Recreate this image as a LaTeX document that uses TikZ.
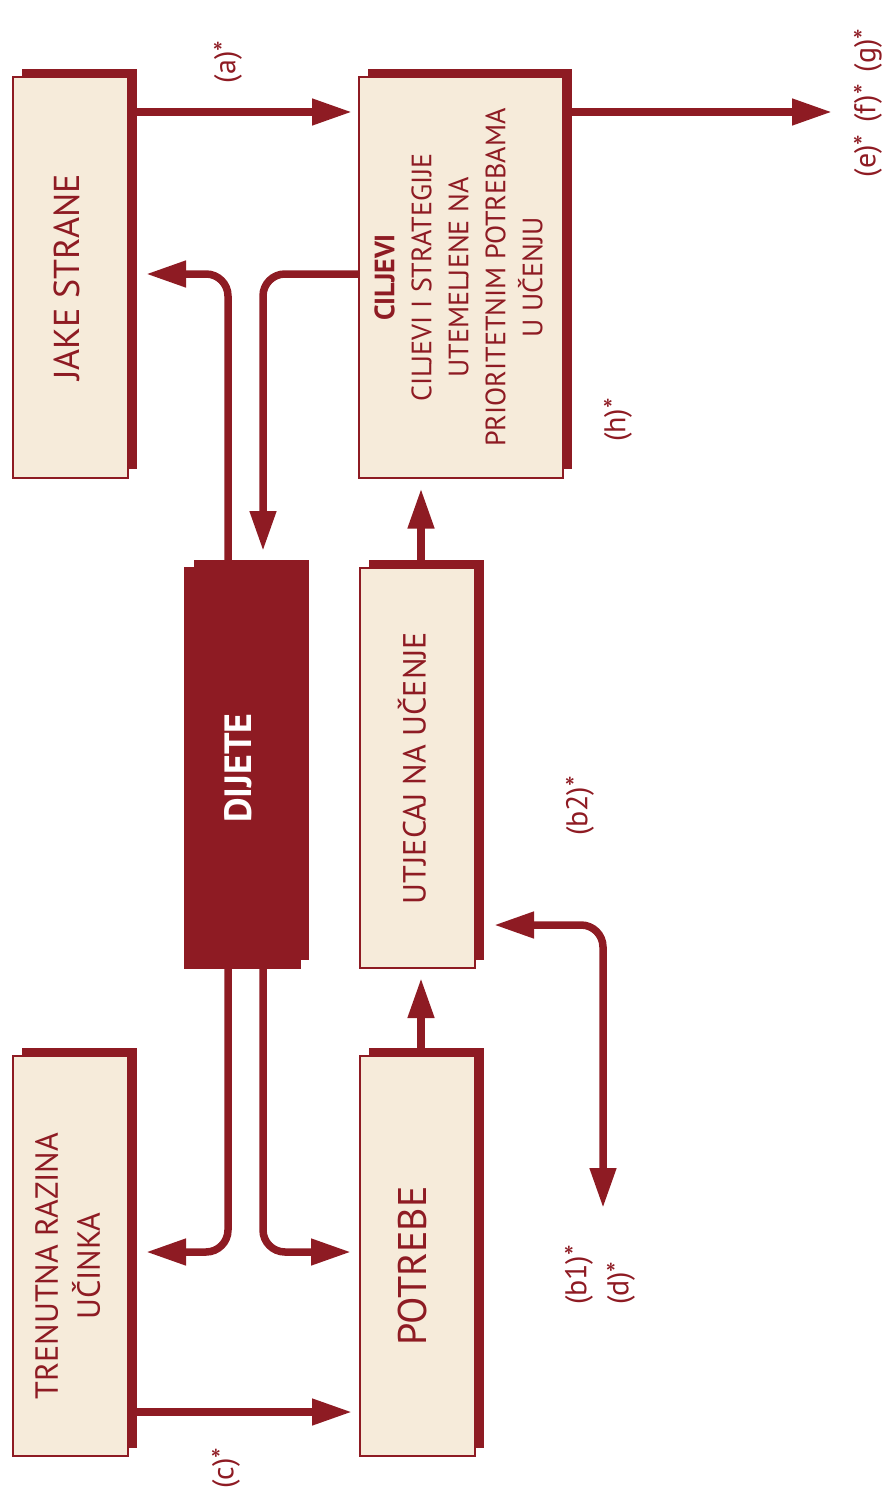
\documentclass[tikz,border=0pt]{standalone}
\usepackage{fontspec}
\setmainfont{PT Sans}
\usepackage{graphicx}
\usetikzlibrary{arrows.meta, shadows}
\definecolor{boxred}{RGB}{142,27,35}
\definecolor{boxfill}{RGB}{246,235,218}
\tikzstyle{panel}=[draw=boxred, line width=1pt, fill=boxfill, rectangle, inner sep=0pt, minimum width=57.5pt, minimum height=200pt, text=boxred, drop shadow={shadow xshift=4.25pt, shadow yshift=4.25pt, opacity=1, fill=boxred}]
\tikzstyle{arr}=[boxred, line width=3.75pt, -{Triangle[length=20pt,width=12.5pt]}]
\tikzstyle{link}=[arr, rounded corners=11pt]
\tikzstyle{tag}=[text=boxred, inner sep=0pt, font=\fontsize{15}{21}\selectfont]
\newcommand{\up}[2][0pt]{\rotatebox{90}{\begin{tabular}{@{}c@{\hspace{#1}}}#2\end{tabular}}}

\begin{document}
\begin{tikzpicture}[x=0.5pt, y=-0.5pt]
  \useasboundingbox (0,0) rectangle (889,1493);
  % boxes
  \node[panel, font=\fontsize{18}{22}\selectfont] (jake) at (70.5,277.5) {\up{JAKE STRANE}};
  \node[panel, minimum width=102pt, font=\fontsize{14}{18.5}\selectfont] (ciljevi) at (461,277.5)
    {\up{\textbf{CILJEVI}\\CILJEVI I STRATEGIJE\\UTEMELJENE NA\\PRIORITETNIM POTREBAMA\\U UČENJU}};
  \node[panel, fill=boxred, text=white, font=\bfseries\fontsize{19}{22}\selectfont] (dijete) at (242.5,768) {\up{DIJETE}};
  \node[panel, font=\fontsize{16}{20}\selectfont] (utjecaj) at (417.5,768) {\up{UTJECAJ NA UČENJE}};
  \node[panel, font=\fontsize{16}{21}\selectfont] (trenutna) at (70.5,1256) {\up[10pt]{TRENUTNA RAZINA\\UČINKA}};
  \node[panel, font=\fontsize{20}{22}\selectfont] (potrebe) at (417.5,1256) {\up[10pt]{POTREBE}};
  % labels
  \node[tag] (la) at (228,62) {\rotatebox{90}{(a)*}};
  \node[tag] (lefg) at (868,103) {\rotatebox{90}{(e)*\hspace{6pt}(f)*\hspace{6pt}(g)*}};
  \node[tag] (lh) at (618,420) {\rotatebox{90}{(h)*}};
  \node[tag] (lb2) at (580,806) {\rotatebox{90}{(b2)*}};
  \node[tag] (lbd) at (599,1275) {\rotatebox{90}{\begin{tabular}{@{}l@{}}(b1)*\\(d)*\end{tabular}}};
  \node[tag] (lc) at (226,1468) {\rotatebox{90}{(c)*}};
  % connectors
  \coordinate (out) at (832,112);
  \coordinate (b1end) at (603,1208);
  \draw[arr, shorten >=3pt] (jake.east |- 0,112) -- (ciljevi.west |- 0,112);
  \draw[arr] (ciljevi.east |- 0,112) -- (out);
  \draw[link, shorten >=8pt] (ciljevi.west |- 0,274) -| ([xshift=10.25pt]dijete.north);
  \draw[link, shorten >=8.5pt] ([xshift=-7.25pt]dijete.north) |- (jake.east |- 0,274);
  \draw[link, shorten >=8.5pt] ([xshift=-7.25pt]dijete.south) |- (trenutna.east |- 0,1252);
  \draw[link, shorten >=4pt] ([xshift=10.25pt]dijete.south) |- (potrebe.west |- 0,1252);
  \draw[arr, shorten >=3.5pt] (trenutna.east |- 0,1412) -- (potrebe.west |- 0,1412);
  \draw[arr, shorten >=4.5pt] ([xshift=1.75pt]potrebe.north) -- ([xshift=1.75pt]utjecaj.south);
  \draw[arr, shorten >=5pt] ([xshift=1.75pt]utjecaj.north) -- ([xshift=1.75pt]utjecaj.north |- ciljevi.south);
  \draw[link, {Triangle[length=20pt,width=12.5pt]}-{Triangle[length=20pt,width=12.5pt]}, shorten >=9pt] (b1end) |- (utjecaj.east |- 0,925);
\end{tikzpicture}
\end{document}
